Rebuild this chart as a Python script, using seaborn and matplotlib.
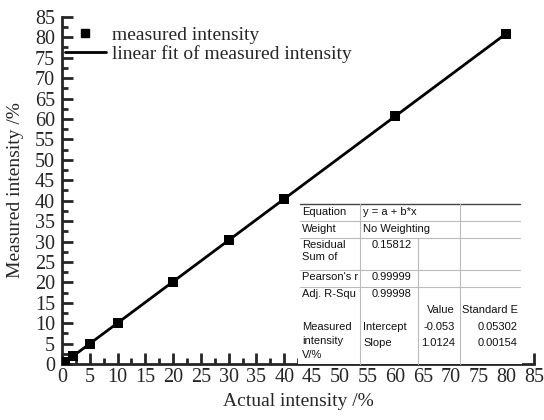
import numpy as np
import pandas as pd
import matplotlib
matplotlib.use("Agg")
import matplotlib.pyplot as plt
from matplotlib.ticker import MultipleLocator
from matplotlib.lines import Line2D
import seaborn as sns

# Calibration data
actual = [0.5, 2, 5, 10, 20, 30, 40, 60, 80]
measured = [0.45, 1.98, 5.01, 10.07, 20.2, 30.3, 40.4, 60.7, 80.9]

# Linear fit parameters
intercept = -0.053
slope = 1.0124
fit_x = [0, 80]

ticks = list(range(0, 90, 5))

sns.set_theme(style="ticks")
plt.rcParams["font.family"] = ["Liberation Serif", "DejaVu Serif"]

fig = plt.figure(figsize=(5.44, 4.2), dpi=100)
ax = fig.add_axes([0.114, 0.133, 0.868, 0.827])

pts = pd.DataFrame({"x": actual, "y": measured})
fit = pd.DataFrame({"x": fit_x, "y": [intercept + slope * v for v in fit_x]})

sns.lineplot(data=fit, x="x", y="y", ax=ax, color="black", linewidth=2, zorder=3)
sns.scatterplot(data=pts, x="x", y="y", ax=ax, marker="s", s=45, color="black",
                edgecolor="black", linewidth=0, zorder=4)

ax.set_xlim(0, 85)
ax.set_ylim(0, 85)
ax.set_xticks(ticks)
ax.set_yticks(ticks)
ax.xaxis.set_minor_locator(MultipleLocator(2.5))
ax.yaxis.set_minor_locator(MultipleLocator(2.5))
ax.tick_params(which="major", direction="in", length=8, width=2, labelsize=14.5)
ax.tick_params(axis="x", which="major", pad=3)
ax.tick_params(axis="y", which="major", pad=5)
ax.tick_params(which="minor", direction="in", length=4, width=2)
for side in ("top", "right"):
    ax.spines[side].set_visible(False)
for side in ("left", "bottom"):
    ax.spines[side].set_linewidth(2)

ax.set_xlabel("Actual intensity /%", fontsize=14, labelpad=4)
ax.set_ylabel("Measured intensity /%", fontsize=14, labelpad=8)

handles = [
    Line2D([], [], marker="s", color="black", linestyle="none", markersize=6),
    Line2D([], [], color="black", linewidth=2),
]
ax.legend(handles, ["measured intensity", "linear fit of measured intensity"],
          loc="upper left", bbox_to_anchor=(-0.01, 0.995), frameon=False,
          fontsize=14, handlelength=2.1, handletextpad=0.3, labelspacing=0.05,
          borderaxespad=0.0)

# Fit statistics table in figure pixel coordinates
W, H = 544, 420


def fx(px):
    return px / W


def fy(py):
    return 1 - py / H


tfont = dict(family=["Liberation Sans", "DejaVu Sans"], fontsize=8, color="#111111")
grey = "#bbbbbb"

fig.patches.append(plt.Rectangle((fx(298), fy(364)), fx(522) - fx(298), fy(204) - fy(364),
                                 transform=fig.transFigure, facecolor="white",
                                 edgecolor="none", zorder=1))


def hline(py, x0=300, x1=520, color=grey, lw=0.8):
    fig.add_artist(Line2D([fx(x0), fx(x1)], [fy(py), fy(py)], color=color, lw=lw))


def vline(px, y0, y1):
    fig.add_artist(Line2D([fx(px), fx(px)], [fy(y0), fy(y1)], color=grey, lw=0.8))


hline(204, color="#444444", lw=1.0)
for py in (221, 238, 270, 287):
    hline(py)
vline(360, 204, 364)
vline(418, 238, 364)
vline(460, 204, 364)


def t(px, py, s, ha="left"):
    fig.text(fx(px), fy(py), s, ha=ha, va="center", **tfont)


t(302, 212, "Equation")
t(363, 212, "y = a + b*x")
t(302, 229, "Weight")
t(363, 229, "No Weighting")
t(302, 245, "Residual")
t(302, 257, "Sum of")
t(372, 245, "0.15812")
t(302, 277, "Pearson's r")
t(372, 277, "0.99999")
t(302, 294, "Adj. R-Squ")
t(372, 294, "0.99998")
t(455, 310, "Value", ha="right")
t(518, 310, "Standard E", ha="right")
t(302, 327, "Measured")
t(302, 341, "intensity")
t(302, 355, "V/%")
t(363, 327, "Intercept")
t(363, 343, "Slope")
t(455, 327, f"{intercept}", ha="right")
t(455, 343, f"{slope}", ha="right")
t(518, 327, "0.05302", ha="right")
t(518, 343, "0.00154", ha="right")

fig.savefig("out.png", dpi=100)
